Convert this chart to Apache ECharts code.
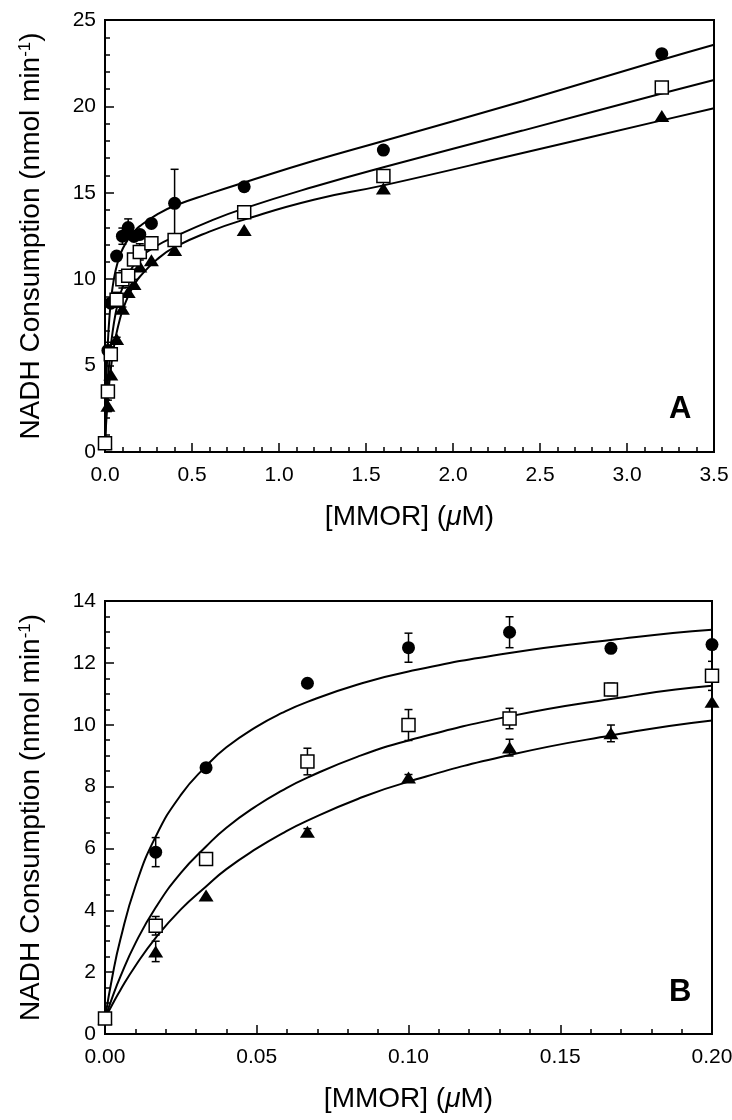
<!DOCTYPE html>
<html>
<head>
<meta charset="utf-8">
<title>NADH Consumption vs MMOR</title>
<script src="https://cdn.jsdelivr.net/npm/echarts@6/dist/echarts.min.js"></script>
<style>
  html, body { margin: 0; padding: 0; background: #fff; }
  #chart { width: 732px; height: 1120px; }
</style>
</head>
<body>
<div id="chart"></div>
<script>
  // measured points (same data in both panels)
  var concX    = [0, 0.0167, 0.0333, 0.0667, 0.1, 0.1333, 0.1667, 0.2, 0.2667, 0.4, 0.8, 1.6, 3.2]
  var circleY  = [0.5, 5.88, 8.61, 11.34, 12.49, 12.99, 12.47, 12.59, 13.23, 14.39, 15.35, 17.47, 23.05]
  var circleE  = [0, 0.47, 0, 0, 0.47, 0.5, 0, 0, 0, 1.97, 0, 0, 0]
  var squareY  = [0.5, 3.5, 5.66, 8.81, 9.99, 10.2, 11.14, 11.58, 12.08, 12.27, 13.87, 15.97, 21.1]
  var squareE  = [0, 0.3, 0, 0.43, 0.5, 0.33, 0.2, 0.47, 0, 0, 0, 0, 0]
  var triY     = [0.5, 2.67, 4.48, 6.54, 8.29, 9.26, 9.72, 10.74, 11.1, 11.69, 12.85, 15.25, 19.44]
  var triE     = [0, 0.33, 0, 0.1, 0.1, 0.27, 0.27, 0, 0, 0, 0, 0, 0]

  // fitted curves
  var fitX     = [0, 0.0025, 0.005, 0.01, 0.0167, 0.025, 0.0333, 0.04, 0.05, 0.0583, 0.0667, 0.0833, 0.1, 0.1333, 0.1667, 0.2, 0.3, 0.4, 0.6, 0.8, 1.2, 1.6, 2.4, 3.2, 3.5]
  var fitTop   = [0.5, 1.90, 3.03, 4.77, 6.38, 7.73, 8.66, 9.27, 9.94, 10.38, 10.74, 11.30, 11.72, 12.32, 12.74, 13.07, 13.75, 14.25, 14.95, 15.6, 16.85, 18.0, 20.3, 22.7, 23.57]
  var fitMid   = [0.5, 1.21, 1.84, 2.93, 4.09, 5.21, 6.06, 6.67, 7.38, 7.87, 8.29, 8.97, 9.49, 10.27, 10.83, 11.26, 11.95, 12.45, 13.35, 14.1, 15.35, 16.48, 18.6, 20.75, 21.53]
  var fitLow   = [0.5, 0.97, 1.41, 2.20, 3.11, 4.03, 4.77, 5.33, 6.00, 6.48, 6.90, 7.60, 8.16, 9.02, 9.65, 10.14, 11.15, 11.85, 12.75, 13.45, 14.6, 15.43, 17.3, 19.19, 19.89]

  var FONT = 'Liberation Sans, Arial, Helvetica, sans-serif'

  function pairs(xs, ys) {
    return xs.map(function (x, i) { return [x, ys[i]] })
  }

  // vertical error bars with caps
  function errorSeries(ys, es, idx) {
    var data = []
    concX.forEach(function (x, i) {
      if (es[i] > 0) data.push([x, ys[i] - es[i], ys[i] + es[i]])
    })
    return {
      type: 'custom',
      xAxisIndex: idx,
      yAxisIndex: idx,
      clip: true,
      silent: true,
      z: 1,
      data: data,
      renderItem: function (params, api) {
        var lo = api.coord([api.value(0), api.value(1)])
        var hi = api.coord([api.value(0), api.value(2)])
        var w = 4
        var st = { stroke: '#000', lineWidth: 1.5 }
        return {
          type: 'group',
          children: [
            { type: 'line', shape: { x1: lo[0], y1: lo[1], x2: hi[0], y2: hi[1] }, style: st },
            { type: 'line', shape: { x1: hi[0] - w, y1: hi[1], x2: hi[0] + w, y2: hi[1] }, style: st },
            { type: 'line', shape: { x1: lo[0] - w, y1: lo[1], x2: lo[0] + w, y2: lo[1] }, style: st }
          ]
        }
      }
    }
  }

  function fitSeries(ys, idx) {
    return {
      type: 'line',
      xAxisIndex: idx,
      yAxisIndex: idx,
      data: pairs(fitX, ys),
      showSymbol: false,
      smooth: 0.5,
      clip: true,
      silent: true,
      z: 2,
      lineStyle: { color: '#000', width: 2, opacity: 1 }
    }
  }

  function markSeries(ys, idx, symbol, size, color) {
    return {
      type: 'scatter',
      xAxisIndex: idx,
      yAxisIndex: idx,
      data: pairs(concX, ys),
      symbol: symbol,
      symbolSize: size,
      clip: true,
      z: 3,
      itemStyle: { color: color, opacity: 1, borderColor: '#000', borderWidth: color === '#fff' ? 1.5 : 0 }
    }
  }

  function xAxis(idx, max, interval, digits) {
    return {
      type: 'value',
      gridIndex: idx,
      min: 0, max: max, interval: interval,
      name: '[MMOR] ({mu|μ}M)',
      nameLocation: 'middle',
      nameGap: 51,
      nameTextStyle: {
        color: '#000', fontFamily: FONT, fontSize: 28,
        rich: { mu: { fontFamily: FONT, fontSize: 28, fontStyle: 'italic', color: '#000' } }
      },
      axisLine: { lineStyle: { color: '#000', width: 2 } },
      axisTick: { inside: true, length: 9, lineStyle: { color: '#000', width: 1.5 } },
      minorTick: { show: true, splitNumber: 5, length: 5, lineStyle: { color: '#000', width: 1.5 } },
      splitLine: { show: false },
      axisLabel: {
        color: '#000', fontFamily: FONT, fontSize: 21, margin: 13,
        formatter: function (v) { return v.toFixed(digits) }
      }
    }
  }

  function yAxis(idx, max, interval, minorSplit) {
    return {
      type: 'value',
      gridIndex: idx,
      min: 0, max: max, interval: interval,
      name: 'NADH Consumption (nmol min{sup|-1})',
      nameLocation: 'middle',
      nameGap: 60,
      nameTextStyle: {
        color: '#000', fontFamily: FONT, fontSize: 28,
        rich: { sup: { fontFamily: FONT, fontSize: 17, color: '#000', verticalAlign: 'top', lineHeight: 17 } }
      },
      axisLine: { lineStyle: { color: '#000', width: 2 } },
      axisTick: { inside: true, length: 9, lineStyle: { color: '#000', width: 1.5 } },
      minorTick: { show: true, splitNumber: minorSplit, length: 5, lineStyle: { color: '#000', width: 1.5 } },
      splitLine: { show: false },
      axisLabel: { color: '#000', fontFamily: FONT, fontSize: 21, margin: 9 }
    }
  }

  var chart = echarts.init(document.getElementById('chart'))
  var option = {
    backgroundColor: '#fff',
    animation: false,
    title: [
      { text: 'A', left: 669, top: 394, padding: 0,
        textStyle: { fontFamily: FONT, fontSize: 31, fontWeight: 'bold', color: '#000' } },
      { text: 'B', left: 669, top: 977, padding: 0,
        textStyle: { fontFamily: FONT, fontSize: 31, fontWeight: 'bold', color: '#000' } }
    ],
    grid: [
      { left: 105, right: 18, top: 20, height: 432, outerBoundsMode: 'none',
        show: true, borderColor: '#000', borderWidth: 2, backgroundColor: 'transparent' },
      { left: 105, right: 20, top: 601, height: 433, outerBoundsMode: 'none',
        show: true, borderColor: '#000', borderWidth: 2, backgroundColor: 'transparent' }
    ],
    xAxis: [xAxis(0, 3.5, 0.5, 1), xAxis(1, 0.2, 0.05, 2)],
    yAxis: [yAxis(0, 25, 5, 5), yAxis(1, 14, 2, 4)],
    series: [
      // panel A
      errorSeries(circleY, circleE, 0),
      errorSeries(squareY, squareE, 0),
      errorSeries(triY, triE, 0),
      fitSeries(fitTop, 0),
      fitSeries(fitMid, 0),
      fitSeries(fitLow, 0),
      markSeries(triY, 0, 'triangle', [15, 12], '#000'),
      markSeries(circleY, 0, 'circle', 13, '#000'),
      markSeries(squareY, 0, 'rect', 13, '#fff'),
      // panel B
      errorSeries(circleY, circleE, 1),
      errorSeries(squareY, squareE, 1),
      errorSeries(triY, triE, 1),
      fitSeries(fitTop, 1),
      fitSeries(fitMid, 1),
      fitSeries(fitLow, 1),
      markSeries(triY, 1, 'triangle', [15, 12], '#000'),
      markSeries(circleY, 1, 'circle', 13, '#000'),
      markSeries(squareY, 1, 'rect', 13, '#fff')
    ]
  }
  chart.setOption(option)
</script>
</body>
</html>
